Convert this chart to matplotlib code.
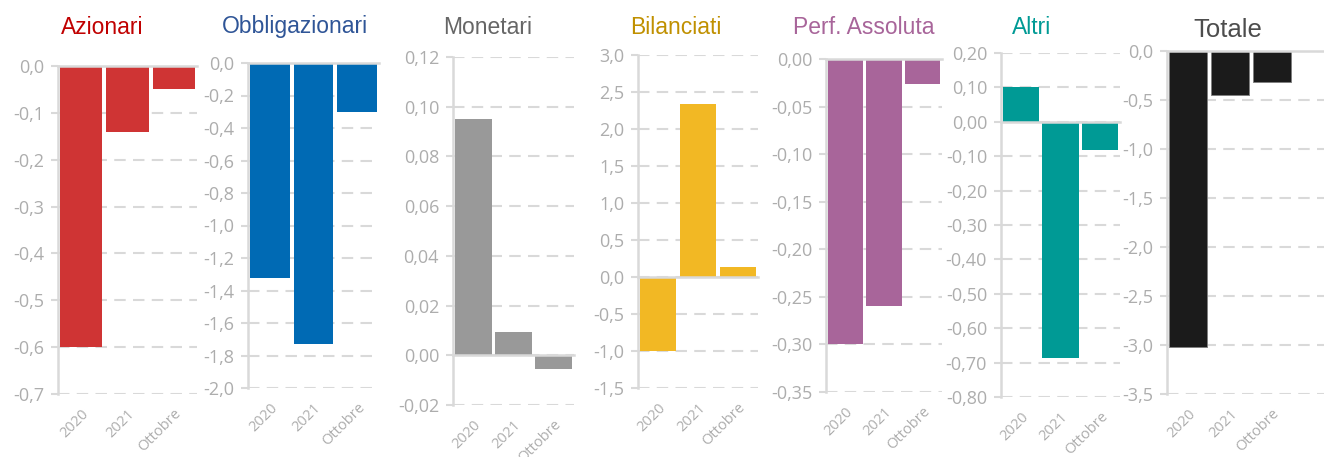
import matplotlib.pyplot as plt
from matplotlib.ticker import FuncFormatter, MultipleLocator

# periodi sull'asse x
periodi = ["2020", "2021", "Ottobre"]

# raccolta netta per categoria (mld di euro)
azionari = [-0.60, -0.14, -0.05]
obbligazionari = [-1.32, -1.73, -0.30]
monetari = [0.095, 0.0095, -0.0056]
bilanciati = [-1.00, 2.34, 0.13]
perf_assoluta = [-0.30, -0.26, -0.026]
altri = [0.102, -0.688, -0.083]
totale = [-3.02, -0.45, -0.32]

titoli = ["Azionari", "Obbligazionari", "Monetari", "Bilanciati",
          "Perf. Assoluta", "Altri", "Totale"]
serie = [azionari, obbligazionari, monetari, bilanciati,
         perf_assoluta, altri, totale]

colori_barre = ["#CF3434", "#006AB4", "#999999", "#F2B824",
                "#A8659A", "#009A95", "#1B1B1B"]
colori_titoli = ["#C00000", "#2F5597", "#666666", "#C09000",
                 "#A8659A", "#009A95", "#4D4D4D"]

# limiti, passo e decimali di ciascun asse y
limiti = [(-0.7, 0.0), (-2.0, 0.0), (-0.02, 0.12), (-1.5, 3.0),
          (-0.35, 0.0), (-0.80, 0.20), (-3.5, 0.0)]
passi = [0.1, 0.2, 0.02, 0.5, 0.05, 0.10, 0.5]
decimali = [1, 1, 2, 1, 2, 2, 1]

# riquadri in pixel: sinistra, destra, alto, basso
W, H = 1324, 457
riquadri = [(58, 197, 66, 394), (248, 379, 63, 388), (453, 574, 57, 405),
            (638, 758, 55, 388), (826, 942, 59, 392), (1001, 1120, 53, 397),
            (1167, 1324, 51, 394)]
titolo_x = [102, 295, 488, 676, 864, 1032, 1228]

grigio = "#D9D9D9"
testo = "#ADADAD"


def formato(d):
    def f(v, pos):
        s = f"{v:.{d}f}".replace(".", ",")
        return s.lstrip("-") if abs(v) < 1e-9 else s
    return FuncFormatter(f)


fig = plt.figure(figsize=(W / 100, H / 100), dpi=100)

for i, valori in enumerate(serie):
    l, r, t, b = riquadri[i]
    ax = fig.add_axes([l / W, 1 - b / H, (r - l) / W, (b - t) / H])
    x = range(len(periodi))
    bordo = "#808080" if i == 6 else colori_barre[i]
    ax.bar(x, valori, width=0.91, color=colori_barre[i], zorder=3,
           edgecolor=bordo, linewidth=0.7 if i == 6 else 0)
    ax.set_ylim(*limiti[i])
    ax.yaxis.set_major_locator(MultipleLocator(passi[i]))
    ax.yaxis.set_major_formatter(formato(decimali[i]))
    ax.set_xlim(-0.5, 3.24 if i == 6 else 2.5)
    ax.set_xticks(list(x))
    ax.set_xticklabels(periodi, rotation=45, ha="right", rotation_mode="anchor",
                       fontsize=10.5, color=testo, family="Open Sans")
    ax.tick_params(axis="x", length=0, pad=9)
    ax.tick_params(axis="y", length=5, width=1.5, color=grigio, labelcolor=testo,
                   labelsize=13, pad=5)
    for lab in ax.get_yticklabels():
        lab.set_family("Open Sans")
    ax.grid(axis="y", color=grigio, linestyle=(0, (5.5, 3.5)), linewidth=1.5, zorder=0)
    for s in ["top", "right", "bottom"]:
        ax.spines[s].set_visible(False)
    ax.spines["left"].set_color(grigio)
    ax.spines["left"].set_linewidth(1.8)
    ax.axhline(0, color=grigio, linewidth=1.8, zorder=4, clip_on=False)
    ax.set_facecolor("none")

    fig.text(titolo_x[i] / W, 1 - (30 if i == 6 else 27) / H, titoli[i],
             ha="center", va="center", color=colori_titoli[i],
             fontsize=18.5 if i == 6 else 16.5, family="Liberation Sans")

fig.savefig("out.png", dpi=100)
